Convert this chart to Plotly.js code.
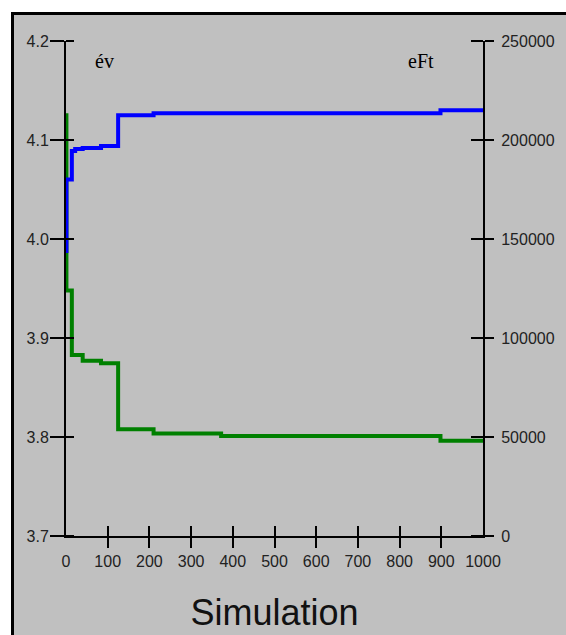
<!DOCTYPE html>
<html>
<head>
<meta charset="utf-8">
<script src="https://cdn.plot.ly/plotly-3.0.1.min.js"></script>
<style>
  html, body { margin:0; padding:0; background:#ffffff; width:566px; height:635px; overflow:hidden; }
  #frame { position:absolute; left:11px; top:12px; width:600px; height:700px; background:#c0c0c0;
           border-left:3px solid #000; border-top:3px solid #000; }
  #chart { position:absolute; left:0; top:0; width:566px; height:635px; }
</style>
</head>
<body>
<div id="frame"></div>
<div id="chart"></div>
<script>
// Simulation step positions (x) shared by both series
const simulation = [0, 1, 14, 22, 40, 84, 125, 210, 372, 898, 1000];
// Left axis series (év) – blue
const evValues = [3.988, 4.060, 4.089, 4.091, 4.092, 4.094, 4.125, 4.127, 4.127, 4.130, 4.130];
// Right axis series (eFt) – green
const eftValues = [212500, 124000, 91400, 91400, 88500, 87200, 53900, 51800, 50500, 48100, 48100];

const xTicks = [0, 100, 200, 300, 400, 500, 600, 700, 800, 900, 1000];
const evTicks = [3.7, 3.8, 3.9, 4.0, 4.1, 4.2];
const evTickText = ['3.7', '3.8', '3.9', '4.0', '4.1', '4.2'];
const eftTicks = [0, 50000, 100000, 150000, 200000, 250000];
const eftTickText = ['0', '50000', '100000', '150000', '200000', '250000'];

const tickFont = {family: 'Liberation Sans, Arial, sans-serif', size: 16, color: '#222'};
const common = {showgrid: false, zeroline: false, fixedrange: true, tickcolor: '#000', tickwidth: 2};
function innerTicks(vals, len) {
  return {tickmode: 'array', tickvals: vals, ticks: 'inside', ticklen: len, tickwidth: 2, tickcolor: '#000', showgrid: false};
}

const traces = [
  {x: simulation, y: eftValues, type: 'scatter', mode: 'lines', line: {shape: 'hv', color: '#008000', width: 4},
   xaxis: 'x', yaxis: 'y', hoverinfo: 'skip'},
  {x: simulation, y: evValues, type: 'scatter', mode: 'lines', line: {shape: 'hv', color: '#0000ff', width: 4},
   xaxis: 'x', yaxis: 'y2', hoverinfo: 'skip'}
];

const layout = {
  width: 566, height: 635,
  paper_bgcolor: 'rgba(0,0,0,0)', plot_bgcolor: 'rgba(0,0,0,0)',
  margin: {l: 66, r: 83, t: 41, b: 99, pad: 0},
  showlegend: false,
  title: {text: 'Simulation', font: {family: 'Liberation Sans, Arial, sans-serif', size: 36, color: '#111'},
          x: 0.5, xref: 'paper', xanchor: 'center', y: 1 - 612/635, yref: 'container', yanchor: 'middle'},
  // x ticks cross the axis: 20 px long, shifted up by half of that
  xaxis: Object.assign({}, common, {range: [0, 1000], tickvals: xTicks, ticktext: xTicks.map(String),
          ticks: 'inside', ticklen: 10, showline: true, linewidth: 2, linecolor: '#000', tickfont: tickFont,
          minor: {tickmode: 'array', tickvals: xTicks, ticks: 'outside', ticklen: 10, tickwidth: 2, tickcolor: '#000', showgrid: false},
          ticklabelstandoff: 10}),
  yaxis: Object.assign({}, common, {side: 'right', anchor: 'x', range: [0, 250000], tickvals: eftTicks, ticktext: eftTickText,
          ticks: 'outside', ticklen: 9, showline: true, linewidth: 2, linecolor: '#000', tickfont: tickFont, ticklabelstandoff: 4,
          minor: innerTicks(eftTicks, 12)}),
  yaxis2: Object.assign({}, common, {overlaying: 'y', side: 'left', anchor: 'x', range: [3.7, 4.2], tickvals: evTicks, ticktext: evTickText,
          ticks: 'outside', ticklen: 14, showline: true, linewidth: 2, linecolor: '#000', tickfont: tickFont, ticklabelstandoff: -2,
          minor: innerTicks(evTicks, 8)}),
  annotations: [
    {text: 'év', xref: 'paper', yref: 'paper', x: (93 - 66) / 416.7, y: (536 - 61) / 495.3, xanchor: 'left', yanchor: 'middle',
     showarrow: false, font: {family: 'Liberation Serif, Times New Roman, serif', size: 20, color: '#000'}},
    {text: 'eFt', xref: 'paper', yref: 'paper', x: (406 - 66) / 416.7, y: (536 - 61) / 495.3, xanchor: 'left', yanchor: 'middle',
     showarrow: false, font: {family: 'Liberation Serif, Times New Roman, serif', size: 20, color: '#000'}}
  ]
};

Plotly.newPlot('chart', traces, layout, {staticPlot: true, displayModeBar: false});
</script>
</body>
</html>
